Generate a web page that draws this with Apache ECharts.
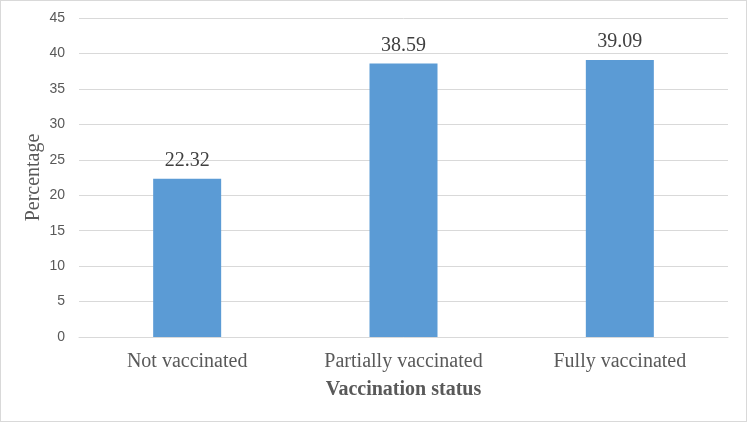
<!DOCTYPE html>
<html><head><meta charset="utf-8">
<script src="https://cdn.jsdelivr.net/npm/echarts@6/dist/echarts.min.js"></script>
<style>html,body{margin:0;padding:0;background:#fff}#c{width:747px;height:422px;box-sizing:border-box;border:1px solid #d9d9d9}</style>
</head><body><div id="c"></div>
<script>
const categories = ["Not vaccinated", "Partially vaccinated", "Fully vaccinated"];
const values = [22.32, 38.59, 39.09];
const chart = echarts.init(document.getElementById('c'));
chart.setOption({
  animation: false,
  grid: {left: 78, right: 18, top: 17, bottom: 84, containLabel: false},
  xAxis: {
    type: 'category', data: categories,
    name: 'Vaccination status', nameLocation: 'middle', nameGap: 43, nameMoveOverlap: false,
    nameTextStyle: {fontFamily: 'Liberation Serif', fontWeight: 'bold', fontSize: 20, color: '#595959'},
    axisLine: {lineStyle: {color: '#d9d9d9'}}, axisTick: {show: false},
    axisLabel: {fontFamily: 'Liberation Serif', fontSize: 20, color: '#595959', margin: 15}
  },
  yAxis: {
    type: 'value', min: 0, max: 45, interval: 5,
    name: 'Percentage', nameLocation: 'middle', nameGap: 35, nameRotate: 90, nameMoveOverlap: false,
    nameTextStyle: {fontFamily: 'Liberation Serif', fontSize: 20, color: '#595959'},
    axisLine: {show: false}, axisTick: {show: false},
    axisLabel: {fontFamily: 'Liberation Sans', fontSize: 14, color: '#595959', margin: 14},
    splitLine: {lineStyle: {color: '#d9d9d9'}}
  },
  series: [{
    type: 'bar', data: values, barWidth: 68,
    itemStyle: {color: '#5B9BD5'},
    label: {show: true, position: 'top', distance: 8, fontFamily: 'Liberation Serif', fontSize: 20, color: '#404040', formatter: p => p.value.toFixed(2)}
  }]
});
</script></body></html>
